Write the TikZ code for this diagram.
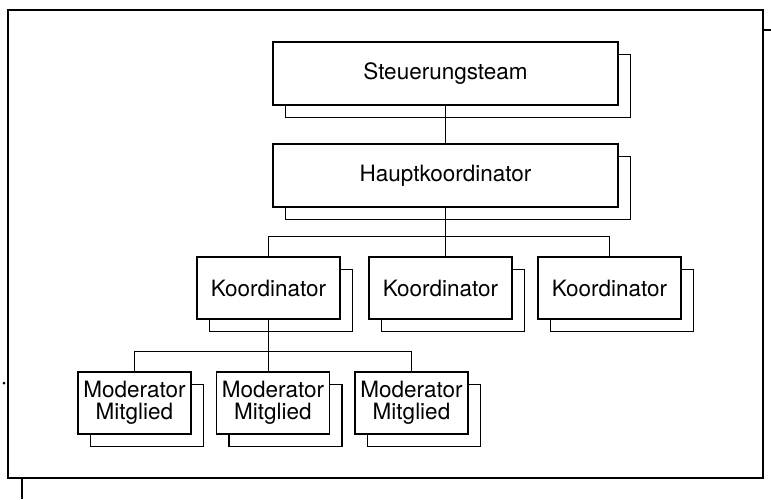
\documentclass[tikz,border=0pt]{standalone}
\usepackage{fontspec}
\setmainfont{TeX Gyre Heros}
\usepackage{tikz}
\usetikzlibrary{shadows}

\tikzset{
	orgbox/.style={draw=black, fill=white, inner sep=0pt, align=center,
		font=\fontsize{22.5}{22}\selectfont,
		copy shadow={shadow xshift=12.5pt, shadow yshift=-12.5pt, draw=black, fill=white}},
	bigbox/.style={orgbox, minimum width=345pt, minimum height=63pt},
	kobox/.style={orgbox, minimum width=143pt, minimum height=62pt},
	modbox/.style={orgbox, minimum width=113pt, minimum height=62pt}
}

\begin{document}
\begin{tikzpicture}[x=1pt, y=-1pt, line width=1.3pt]
		\useasboundingbox (0,0) rectangle (771,499);
		\draw (8,10) rectangle (763,478);
		\draw (763,30) -- (771,30);
		\draw (22,478) -- (22,499);
		\fill (4,383) circle (1.5);
		% Leitung
		\node[bigbox] (steuer) at (445.5,73.5) {Steuerungsteam};
		\node[bigbox] (haupt) at (445.5,175.5) {Hauptkoordinator};
		% Koordinatoren
		\node[kobox] (ko1) at (268.5,288) {Koordinator};
		\node[kobox] (ko2) at (440.5,288) {Koordinator};
		\node[kobox] (ko3) at (609.5,288) {Koordinator};
		% Moderatoren
		\foreach \n/\x in {1/134.5, 2/273, 3/411.5}
			\node[modbox] (mo\n) at (\x,403) {Moderator\\Mitglied};
		\draw (steuer) -- (haupt);
		\draw (haupt.south) -- (haupt.south |- ko2.north);
		\draw (ko1.north) -- ++(0,-20) -| (ko3.north);
		\draw (ko1.south) -- (ko1.south |- mo2.north);
		\draw (mo1.north) -- ++(0,-20) -| (mo3.north);
	\end{tikzpicture}
\end{document}
